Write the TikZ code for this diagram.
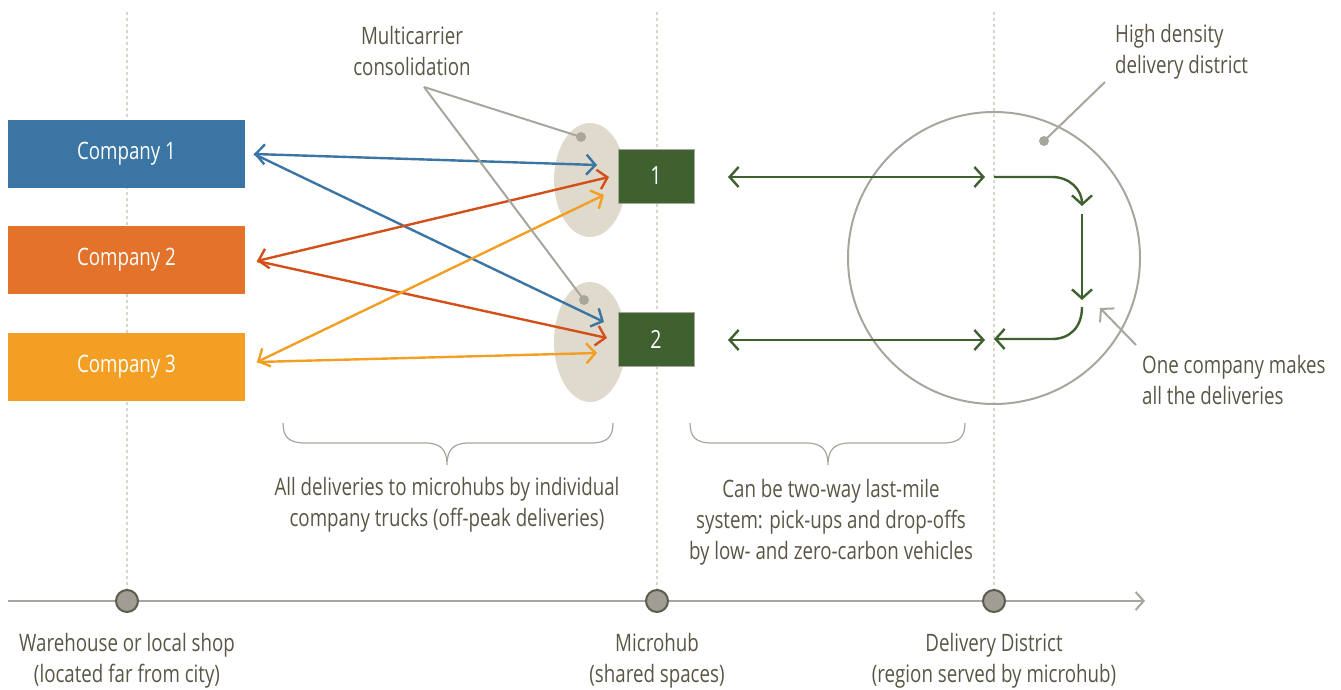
\documentclass[tikz,border=0pt]{standalone}
\usepackage{fontspec}
\setmainfont{Open Sans}[FakeStretch=0.78]
\usetikzlibrary{arrows.meta}
\definecolor{cone}{HTML}{3A75A3}
\definecolor{ctwo}{HTML}{E3722A}
\definecolor{cthree}{HTML}{F39F24}
\definecolor{atwo}{HTML}{D4501A}
\definecolor{hub}{HTML}{3F6130}
\definecolor{ell}{HTML}{DFDACB}
\definecolor{gr}{HTML}{A8A69C}
\definecolor{txt}{HTML}{5A5646}
\definecolor{vdot}{HTML}{D8D5CA}
\definecolor{dotfill}{HTML}{A09E94}
\definecolor{dotline}{HTML}{5F5B4C}
\begin{document}
\begin{tikzpicture}[x=1pt,y=-1pt,
  lbl/.style={text=txt,font=\fontsize{24}{31}\selectfont,align=center,inner sep=0pt},
  compbox/.style={minimum width=237pt,minimum height=68pt,inner sep=0pt,text=white,font=\fontsize{24}{26}\selectfont},
  hubbox/.style={fill=hub,draw=gr,line width=0.8pt,minimum width=76pt,minimum height=54pt,inner sep=0pt,text=white,font=\fontsize{25}{26}\selectfont},
  barb/.style={-{Straight Barb[length=9pt,width=20pt]}},
  dbarb/.style={{Straight Barb[length=9pt,width=20pt]}-{Straight Barb[length=9pt,width=20pt]}},
  flow/.style={line width=2.4pt},
  vguide/.style={vdot,line width=2pt,dash pattern=on 3pt off 3pt},
  tdot/.style={circle,fill=dotfill,draw=dotline,line width=2pt,minimum size=22pt,inner sep=0pt},
  pin/.style={circle,fill=gr,minimum size=10pt,inner sep=0pt},
  callout/.style={gr,line width=2pt},
  brace/.style={gr,line width=1.2pt}]
\useasboundingbox (0,0) rectangle (1341,690);
% vertical guides
\coordinate (g1t) at (127,12); \coordinate (g1b) at (127,590);
\coordinate (g2t) at (657,12); \coordinate (g2b) at (657,590);
\coordinate (g3t) at (994,12); \coordinate (g3b) at (994,590);
\draw[vguide] (g1t) -- (g1b);
\draw[vguide] (g2t) -- (g2b);
\draw[vguide] (g3t) -- (g3b);
% timeline
\coordinate (ts) at (8,601); \coordinate (te) at (1145,601);
\draw[gr,line width=2pt,-{Straight Barb[length=8pt,width=18pt]}] (ts) -- (te);
\node[tdot] (d1) at (127,601) {};
\node[tdot] (d2) at (657,601) {};
\node[tdot] (d3) at (994,601) {};
\node[lbl] (l1) at (127,661) {Warehouse or local shop\\(located far from city)};
\node[lbl] (l2) at (657,661) {Microhub\\(shared spaces)};
\node[lbl] (l3) at (994,661) {Delivery District\\(region served by microhub)};
% companies
\node[compbox,fill=cone] (co1) at (126.5,154) {\raisebox{-3pt}{Company 1}};
\node[compbox,fill=ctwo] (co2) at (126.5,260) {\raisebox{-3pt}{Company 2}};
\node[compbox,fill=cthree] (co3) at (126.5,366.5) {\raisebox{-3pt}{Company 3}};
% ellipses
\fill[ell] (590,180) ellipse [x radius=36, y radius=57];
\fill[ell] (590,342) ellipse [x radius=36, y radius=60];
% hubs
\node[hubbox] (h1) at (656,176) {1};
\node[hubbox] (h2) at (656,339.5) {2};
% arrow endpoints
\coordinate (b0) at (254,154);
\coordinate (b1) at (597,165);
\coordinate (b2) at (604,322);
\coordinate (o0) at (257,261);
\coordinate (o1) at (609,177);
\coordinate (o2) at (607,338);
\coordinate (y0) at (257,362);
\coordinate (y1) at (604,195);
\coordinate (y2) at (597,353);
\draw[flow,cone,dbarb] (b0) -- (b1);
\draw[flow,cone,barb] (b0) -- (b2);
\draw[flow,atwo,dbarb] (o0) -- (o1);
\draw[flow,atwo,barb] (o0) -- (o2);
\draw[flow,cthree,dbarb] (y0) -- (y1);
\draw[flow,cthree,barb] (y0) -- (y2);
% callout multicarrier
\node[lbl] (mc) at (412,51) {Multicarrier\\consolidation};
\coordinate (mcp) at (424,87);
\node[pin] (p1) at (581,137) {};
\node[pin] (p2) at (584,300) {};
\draw[callout] (mcp) -- (p1.center);
\draw[callout] (mcp) -- (p2.center);
% district circle
\draw[gr,line width=2pt] (994,258) circle [radius=146];
\node[lbl,align=left,anchor=west] (hd) at (1115,52) {High density\\delivery district};
\coordinate (hdp) at (1105,82);
\node[pin] (p3) at (1044,141) {};
\draw[callout] (hdp) -- (p3.center);
% green arrows
\coordinate (ga1) at (728,177); \coordinate (ga2) at (985,177);
\coordinate (gb1) at (728,340); \coordinate (gb2) at (985,340);
\draw[flow,hub,dbarb] (ga1) -- (ga2);
\draw[flow,hub,dbarb] (gb1) -- (gb2);
\coordinate (la) at (994,177); \coordinate (lb) at (1052,177); \coordinate (lc) at (1082,206);
\draw[flow,hub,barb] (la) -- (lb) .. controls (1070,177) and (1082,190) .. (lc);
\coordinate (ld) at (1082,214); \coordinate (le) at (1082,300);
\draw[flow,hub,barb] (ld) -- (le);
\coordinate (lf) at (1082,307); \coordinate (lg) at (1052,339); \coordinate (lh) at (994,339);
\draw[flow,hub,barb] (lf) .. controls (1082,327) and (1070,339) .. (lg) -- (lh);
% one company
\coordinate (ocs) at (1136,345); \coordinate (oce) at (1100,308);
\draw[callout,-{Straight Barb[length=9pt,width=20pt]}] (ocs) -- (oce);
\node[lbl,align=left,anchor=west] (oc) at (1142,380) {One company makes\\all the deliveries};
% braces
\draw[brace] (283,423) .. controls (283,437) and (289,443) .. (305,443) -- (425,443) .. controls (441,443) and (447,450) .. (447,465)
  .. controls (447,450) and (453,443) .. (469,443) -- (591,443) .. controls (607,443) and (613,437) .. (613,423);
\draw[brace] (690,423) .. controls (690,437) and (696,443) .. (712,443) -- (806,443) .. controls (822,443) and (828,450) .. (828,465)
  .. controls (828,450) and (834,443) .. (850,443) -- (943,443) .. controls (959,443) and (965,437) .. (965,423);
\node[lbl] (t1) at (447,505) {All deliveries to microhubs by individual\\company trucks (off-peak deliveries)};
\node[lbl] (t2) at (831,522) {Can be two-way last-mile\\system: pick-ups and drop-offs\\by low- and zero-carbon vehicles};
\end{tikzpicture}
\end{document}
